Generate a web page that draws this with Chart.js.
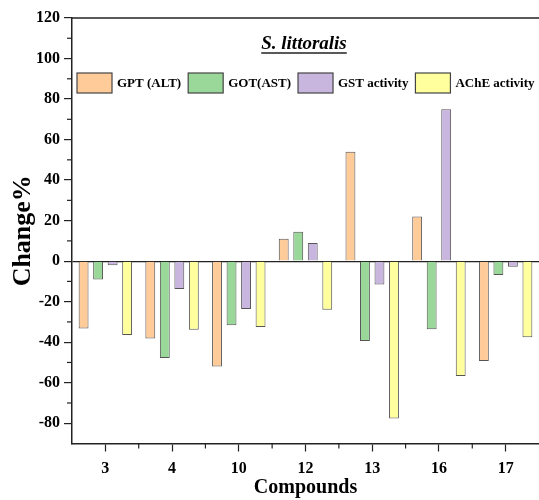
<!DOCTYPE html>
<html lang="en">
  <head>
    <meta charset="UTF-8" />
    <title>S. littoralis</title>
    <style>
      body { margin: 0; background: #fff; }
      #wrap { width: 539px; height: 500px; }
    </style>
  </head>
  <body>
    <div id="wrap"><canvas id="chart"></canvas></div>
    <script src="https://cdn.jsdelivr.net/npm/chart.js"></script>
    <script>
      const compounds = ['3', '4', '10', '12', '13', '16', '17'];
      const gptAlt = [-33.3, -38.2, -52, 11, 54, 22, -49.3];
      const gotAst = [-9.1, -47.8, -31.6, 14.5, -39.4, -33.6, -6.8];
      const gstActivity = [-2, -13.8, -23.6, 8.9, -11.5, 75, -2.8];
      const acheActivity = [-36.4, -33.8, -32.5, -24, -77.6, -56.7, -37.6];
      const yTicks = [-80, -60, -40, -20, 0, 20, 40, 60, 80, 100, 120];
      const yMinorTicks = [-70, -50, -30, -10, 10, 30, 50, 70, 90, 110];
      const chartTitle = 'S. littoralis';

      const serif = 'Liberation Serif';
      const axisColor = '#222';

      function barSet(label, values, color) {
        return {
          label: label,
          data: values,
          backgroundColor: color,
          borderColor: '#555',
          borderWidth: 1,
          barPercentage: 0.68,
          categoryPercentage: 0.87
        };
      }

      // top frame line, minor ticks, title and the legend inside the plot
      const extras = {
        id: 'extras',
        afterDraw(chart) {
          const ctx = chart.ctx;
          const area = chart.chartArea;
          const x = chart.scales.x;
          const y = chart.scales.y;
          ctx.save();
          ctx.strokeStyle = axisColor;
          ctx.lineWidth = 1.5;
          ctx.beginPath();
          ctx.moveTo(area.left, area.top);
          ctx.lineTo(area.right, area.top);
          ctx.stroke();

          ctx.lineWidth = 1.2;
          for (const v of yMinorTicks) {
            const py = y.getPixelForValue(v);
            ctx.beginPath();
            ctx.moveTo(area.left - 5, py);
            ctx.lineTo(area.left, py);
            ctx.stroke();
          }
          for (let i = 0; i < compounds.length - 1; i++) {
            const px = x.getPixelForValue(i + 0.5);
            ctx.beginPath();
            ctx.moveTo(px, area.bottom);
            ctx.lineTo(px, area.bottom + 5);
            ctx.stroke();
          }

          // title
          ctx.fillStyle = '#000';
          ctx.font = 'italic bold 19px "' + serif + '"';
          ctx.textAlign = 'center';
          ctx.textBaseline = 'alphabetic';
          const tx = area.left + 232;
          const ty = area.top + 31;
          ctx.fillText(chartTitle, tx, ty);
          const tw = ctx.measureText(chartTitle).width;
          ctx.lineWidth = 1.6;
          ctx.beginPath();
          ctx.moveTo(tx - tw / 2, ty + 4);
          ctx.lineTo(tx + tw / 2, ty + 4);
          ctx.stroke();

          // legend
          ctx.font = 'bold 13px "' + serif + '"';
          ctx.textAlign = 'left';
          ctx.textBaseline = 'middle';
          let lx = area.left + 5;
          const ly = area.top + 55;
          for (const ds of chart.data.datasets) {
            ctx.fillStyle = ds.backgroundColor;
            ctx.fillRect(lx, ly, 35, 20);
            ctx.strokeStyle = '#444';
            ctx.lineWidth = 1.2;
            ctx.strokeRect(lx, ly, 35, 20);
            ctx.fillStyle = '#000';
            ctx.fillText(ds.label, lx + 40, ly + 10.5);
            lx += 40 + ctx.measureText(ds.label).width + 7;
          }
          ctx.restore();
        }
      };

      const config = {
        type: 'bar',
        data: {
          labels: compounds,
          datasets: [
            barSet('GPT (ALT)', gptAlt, '#FFCC99'),
            barSet('GOT(AST)', gotAst, '#9AD89A'),
            barSet('GST activity', gstActivity, '#C9B6DE'),
            barSet('AChE activity', acheActivity, '#FFFF9E')
          ]
        },
        options: {
          responsive: true,
          maintainAspectRatio: false,
          animation: false,
          layout: { padding: { top: 18, left: 0, right: 0, bottom: 0 } },
          plugins: {
            tooltip: { enabled: false },
            legend: { display: false }
          },
          scales: {
            x: {
              afterFit(scale) { scale.height = 56.5; },
              grid: {
                offset: false,
                drawOnChartArea: false,
                tickLength: 8,
                tickColor: axisColor,
                tickWidth: 1.2
              },
              border: { display: true, color: axisColor, width: 1.5 },
              ticks: {
                color: '#000',
                padding: 8,
                font: { family: serif, size: 16, weight: 'bold' }
              },
              title: {
                display: true,
                text: 'Compounds',
                color: '#000',
                font: { family: serif, size: 20, weight: 'bold', lineHeight: 1 },
                padding: { top: 0, bottom: 2 }
              }
            },
            y: {
              min: -90,
              max: 120,
              afterFit(scale) { scale.width = 72; },
              afterBuildTicks(scale) {
                scale.ticks = yTicks.map(v => ({ value: v }));
              },
              grid: {
                drawOnChartArea: true,
                color: c => (c.tick && c.tick.value === 0 ? axisColor : 'rgba(0,0,0,0)'),
                lineWidth: 1.2,
                tickLength: 8,
                tickColor: axisColor,
                tickWidth: 1.2
              },
              border: { display: true, color: axisColor, width: 1.5 },
              ticks: {
                color: '#000',
                padding: 4,
                font: { family: serif, size: 16, weight: 'bold' }
              },
              title: {
                display: true,
                text: 'Change%',
                color: '#000',
                font: { family: serif, size: 26, weight: 'bold' },
                padding: { top: 8, bottom: 0 }
              }
            }
          }
        },
        plugins: [extras]
      };

      const myChart = new Chart(document.getElementById('chart'), config);
    </script>
  </body>
</html>
